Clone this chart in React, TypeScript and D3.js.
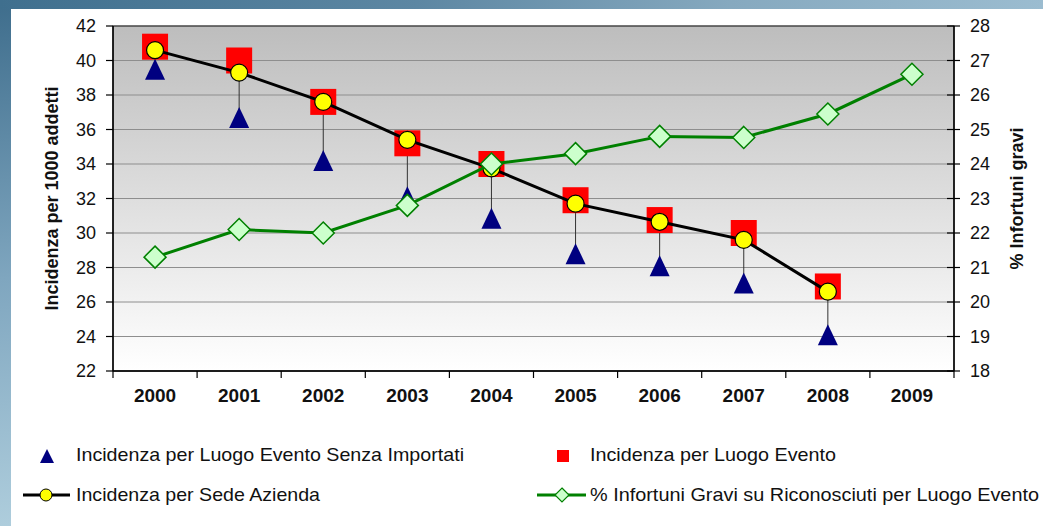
import React from 'react';
import * as d3 from 'd3';

const years = ['2000', '2001', '2002', '2003', '2004', '2005', '2006', '2007', '2008', '2009'];
const senzaImportati = [39.5, 36.7, 34.2, 32.1, 30.85, 28.8, 28.1, 27.1, 24.1];
const luogoEvento = [40.8, 40.0, 37.6, 35.2, 34.0, 31.9, 30.75, 30.0, 26.9];
const sedeAzienda = [40.6, 39.3, 37.6, 35.4, 33.75, 31.7, 30.65, 29.6, 26.6];
const gravi = [21.3, 22.1, 22.0, 22.8, 24.0, 24.3, 24.8, 24.77, 25.45, 26.6];
const leftTicks = [22, 24, 26, 28, 30, 32, 34, 36, 38, 40, 42];
const rightTicks = [18, 19, 20, 21, 22, 23, 24, 25, 26, 27, 28];

const W = 1043;
const H = 526;
const margin = { top: 26, right: 89, bottom: 155, left: 113 };
const font = '"Liberation Sans", Arial, sans-serif';

export default function App() {
  const x = d3.scaleBand().domain(years).range([margin.left, W - margin.right]);
  const yL = d3.scaleLinear().domain([22, 42]).range([H - margin.bottom, margin.top]);
  const yR = d3.scaleLinear().domain([18, 28]).range([H - margin.bottom, margin.top]);
  const cx = (i: number) => (x(years[i]) as number) + x.bandwidth() / 2;
  const plotW = W - margin.left - margin.right;
  const plotB = H - margin.bottom;

  const blackLine = d3.line<number>().x((_, i) => cx(i)).y(d => yL(d))(sedeAzienda) as string;
  const greenLine = d3.line<number>().x((_, i) => cx(i)).y(d => yR(d))(gravi) as string;

  const tri = (px: number, py: number, h: number, w: number) =>
    `M${px},${py - h / 2}L${px + w / 2},${py + h / 2}L${px - w / 2},${py + h / 2}Z`;
  const diamond = (px: number, py: number, r: number) =>
    `M${px},${py - r}L${px + r},${py}L${px},${py + r}L${px - r},${py}Z`;

  const bounds = x.domain().concat(['end']).map((_, i) => margin.left + i * x.bandwidth());

  return (
    <svg width={W} height={H} style={{ position: 'absolute', left: 0, top: 0 }} fontFamily={font}>
      <defs>
        <linearGradient id="bg" x1="0" y1="0" x2="0.25" y2="1">
          <stop offset="0" stopColor="#3e6d8c" />
          <stop offset="0.5" stopColor="#7fa6bf" />
          <stop offset="1" stopColor="#b4d2e0" />
        </linearGradient>
        <linearGradient id="topbar" x1="0" y1="0" x2="1" y2="0">
          <stop offset="0" stopColor="#3f6f8e" />
          <stop offset="0.4" stopColor="#5d87a3" />
          <stop offset="0.7" stopColor="#86a9bf" />
          <stop offset="1" stopColor="#9bbcd0" />
        </linearGradient>
        <linearGradient id="plotbg" x1="0" y1="0" x2="0" y2="1">
          <stop offset="0" stopColor="#bdbdbd" />
          <stop offset="1" stopColor="#ffffff" />
        </linearGradient>
      </defs>
      <rect x={0} y={0} width={W} height={H} fill="url(#bg)" />
      <rect x={0} y={0} width={W} height={9} fill="url(#topbar)" />
      <rect x={11} y={9} width={W - 11} height={H - 9} fill="#ffffff" />

      <rect x={margin.left} y={margin.top} width={plotW} height={plotB - margin.top} fill="url(#plotbg)" />
      {leftTicks.map(t => (
        <line key={t} x1={margin.left} x2={W - margin.right} y1={yL(t)} y2={yL(t)} stroke="#8e8e8e" strokeWidth={1.2} />
      ))}
      <rect x={margin.left} y={margin.top} width={plotW} height={plotB - margin.top} fill="none" stroke="#222" strokeWidth={1} />

      {/* left axis */}
      <line x1={margin.left} x2={margin.left} y1={margin.top} y2={plotB} stroke="#000" strokeWidth={1.5} />
      {leftTicks.map(t => (
        <g key={t}>
          <line x1={margin.left - 7} x2={margin.left} y1={yL(t)} y2={yL(t)} stroke="#000" strokeWidth={1.2} />
          <text x={96} y={yL(t)} dy="0.36em" textAnchor="end" fontSize={18} fill="#111">{t}</text>
        </g>
      ))}
      <text transform={`translate(58,${(margin.top + plotB) / 2}) rotate(-90)`} textAnchor="middle" fontSize={18} fontWeight="bold" fill="#111">
        Incidenza per 1000 addetti
      </text>

      {/* right axis */}
      <line x1={W - margin.right} x2={W - margin.right} y1={margin.top} y2={plotB} stroke="#000" strokeWidth={1.5} />
      {rightTicks.map(t => (
        <g key={t}>
          <line x1={W - margin.right - 7} x2={W - margin.right + 6} y1={yR(t)} y2={yR(t)} stroke="#000" strokeWidth={1.2} />
          <text x={970} y={yR(t)} dy="0.36em" fontSize={18} fill="#111">{t}</text>
        </g>
      ))}
      <text transform={`translate(1023,${(margin.top + plotB) / 2}) rotate(-90)`} textAnchor="middle" fontSize={18} fontWeight="bold" fill="#111">
        % Infortuni gravi
      </text>

      {/* x axis */}
      <line x1={margin.left} x2={W - margin.right} y1={plotB} y2={plotB} stroke="#000" strokeWidth={1.5} />
      {bounds.map(b => (
        <line key={b} x1={b} x2={b} y1={plotB} y2={plotB + 7} stroke="#000" strokeWidth={1.2} />
      ))}
      {years.map((y, i) => (
        <text key={y} x={cx(i)} y={402} textAnchor="middle" fontSize={19} fontWeight="bold" fill="#111">{y}</text>
      ))}

      {/* high-low lines */}
      {luogoEvento.map((v, i) => {
        const hi = Math.max(v, sedeAzienda[i], senzaImportati[i]);
        const lo = Math.min(v, sedeAzienda[i], senzaImportati[i]);
        return <line key={i} x1={cx(i)} x2={cx(i)} y1={yL(hi)} y2={yL(lo)} stroke="#333" strokeWidth={1} />;
      })}

      {senzaImportati.map((v, i) => (
        <path key={i} d={tri(cx(i), yL(v), 21, 20)} fill="#000080" />
      ))}
      {luogoEvento.map((v, i) => (
        <rect key={i} x={cx(i) - 13} y={yL(v) - 13} width={26} height={26} fill="#ff0000" />
      ))}
      <path d={blackLine} fill="none" stroke="#000" strokeWidth={3} />
      {sedeAzienda.map((v, i) => (
        <circle key={i} cx={cx(i)} cy={yL(v)} r={8.5} fill="#ffff00" stroke="#000" strokeWidth={1.2} />
      ))}
      <path d={greenLine} fill="none" stroke="#008000" strokeWidth={3} />
      {gravi.map((v, i) => (
        <path key={i} d={diamond(cx(i), yR(v), 11)} fill="#ccffcc" stroke="#008000" strokeWidth={1.5} />
      ))}

      {/* legend */}
      <g fontSize={19} fill="#111">
        <path d={tri(47, 456, 14, 14)} fill="#000080" />
        <text x={76} y={461} textLength={388} lengthAdjust="spacingAndGlyphs">Incidenza per Luogo Evento Senza Importati</text>
        <rect x={557} y={450} width={12} height={12} fill="#ff0000" />
        <text x={590} y={461} textLength={246} lengthAdjust="spacingAndGlyphs">Incidenza per Luogo Evento</text>
        <line x1={23} x2={70} y1={495} y2={495} stroke="#000" strokeWidth={3} />
        <circle cx={46} cy={495} r={6} fill="#ffff00" stroke="#000" strokeWidth={1} />
        <text x={76} y={501} textLength={244} lengthAdjust="spacingAndGlyphs">Incidenza per Sede Azienda</text>
        <line x1={537} x2={586} y1={495} y2={495} stroke="#008000" strokeWidth={3} />
        <path d={diamond(562, 495, 7)} fill="#ccffcc" stroke="#008000" strokeWidth={1.2} />
        <text x={590} y={501} textLength={449} lengthAdjust="spacingAndGlyphs">% Infortuni Gravi su Riconosciuti per Luogo Evento</text>
      </g>
    </svg>
  );
}
